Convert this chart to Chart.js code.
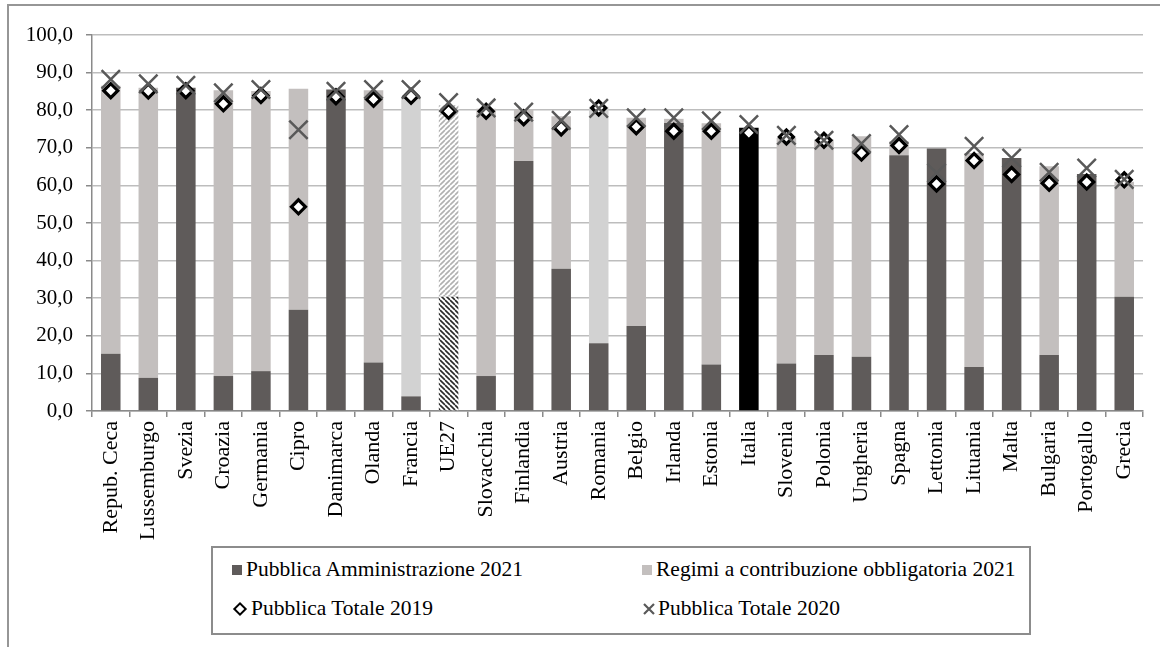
<!DOCTYPE html>
<html>
<head>
<meta charset="utf-8">
<script src="https://cdn.jsdelivr.net/npm/chart.js@4"></script>
<style>
  html, body { margin: 0; padding: 0; background: #fff; }
  #wrap { position: relative; width: 1160px; height: 647px; overflow: hidden; }
  #frame { position: absolute; left: 7px; top: 4px; width: 1200px; height: 700px; border: 2px solid #969696; }
  canvas { position: absolute; left: 0; top: 0; }
  #legend {
    position: absolute; left: 211px; top: 546px; width: 816px; height: 85px;
    border: 2px solid #8c8c8c; background: #fff;
    font-family: "Liberation Serif", "DejaVu Serif", serif; font-size: 21.5px; color: #000;
  }
  .item { position: absolute; display: flex; align-items: center; white-space: nowrap; }
  .sq { display: inline-block; width: 10px; height: 10px; margin-right: 4px; }
  .dia { display: inline-block; width: 6px; height: 6px; border: 2.5px solid #000; background: #fff;
         transform: rotate(45deg); margin: 0 6px 0 3px; }
</style>
</head>
<body>
<div id="wrap">
  <div id="frame"></div>
  <canvas id="chart" width="1160" height="647"></canvas>
  <div id="legend">
    <div class="item" style="left:19px; top:9px;"><span class="sq" style="background:#5f5b5a"></span>Pubblica Amministrazione 2021</div>
    <div class="item" style="left:429px; top:9px;"><span class="sq" style="background:#c3bfbe"></span>Regimi a contribuzione obbligatoria 2021</div>
    <div class="item" style="left:19px; top:48px;"><span class="dia"></span>Pubblica Totale 2019</div>
    <div class="item" style="left:429px; top:48px;">
      <svg width="14" height="12" style="margin-right:2px"><path d="M2 1 L12 11 M12 1 L2 11" stroke="#595959" stroke-width="2.2"/></svg>Pubblica Totale 2020</div>
  </div>
</div>
<script>
// countries, sorted as in the source figure
const categories = ['Repub. Ceca', 'Lussemburgo', 'Svezia', 'Croazia', 'Germania', 'Cipro', 'Danimarca',
    'Olanda', 'Francia', 'UE27', 'Slovacchia', 'Finlandia', 'Austria', 'Romania', 'Belgio', 'Irlanda',
    'Estonia', 'Italia', 'Slovenia', 'Polonia', 'Ungheria', 'Spagna', 'Lettonia', 'Lituania', 'Malta',
    'Bulgaria', 'Portogallo', 'Grecia'];

// stacked bars (2021)
const pubblicaAmm2021 = [15.2, 8.8, 86.0, 9.3, 10.6, 26.9, 85.5, 12.9, 3.9, 30.4, 9.3, 66.5, 37.8, 18.0,
    22.6, 76.6, 12.4, 75.3, 12.6, 14.9, 14.4, 68.0, 69.8, 11.7, 67.3, 14.9, 63.0, 30.4];
const regimi2021 = [71.3, 77.2, 0, 76.0, 74.5, 58.8, 0, 72.4, 79.8, 50.9, 71.1, 13.7, 40.6, 62.9,
    55.4, 1.1, 64.1, 0, 60.0, 57.3, 58.7, 3.7, 0, 56.9, 0, 50.2, 0, 30.6];

// markers
const totale2019 = [85.2, 85.1, 85.2, 81.7, 83.9, 54.3, 83.6, 82.9, 83.7, 79.7, 79.7, 78.0, 75.3, 80.6,
    75.6, 74.4, 74.4, 74.0, 72.9, 72.0, 68.6, 70.6, 60.4, 66.6, 62.9, 60.6, 60.9, 61.5];
const totale2020 = [88.2, 87.0, 86.6, 84.6, 85.5, 74.8, 85.0, 85.5, 85.5, 82.0, 80.6, 79.5, 77.3, 80.5,
    78.0, 78.0, 77.2, 76.2, 73.3, 72.0, 71.1, 73.5, 63.3, 70.4, 67.3, 63.5, 64.6, 61.6];

const yTickLabels = ['0,0', '10,0', '20,0', '30,0', '40,0', '50,0', '60,0', '70,0', '80,0', '90,0', '100,0'];

const DARK = '#5f5b5a';
const LIGHT = '#c3bfbe';
const LIGHTER = '#d2d2d2';
const SERIF = '"Liberation Serif", "DejaVu Serif", serif';

const ctx = document.getElementById('chart').getContext('2d');

// small striped tile for the UE27 bar
function makeHatch(fg, dir) {
    const c = document.createElement('canvas');
    c.width = 5; c.height = 5;
    const g = c.getContext('2d');
    g.fillStyle = '#fff';
    g.fillRect(0, 0, 5, 5);
    g.strokeStyle = fg;
    g.lineWidth = 1.6;
    g.beginPath();
    for (let k = -5; k <= 5; k += 5) {
        if (dir === '\\') { g.moveTo(k, 0); g.lineTo(k + 5, 5); }
        else { g.moveTo(k, 5); g.lineTo(k + 5, 0); }
    }
    g.stroke();
    return ctx.createPattern(c, 'repeat');
}

const darkColors = categories.map(function(name) {
    if (name === 'UE27') return makeHatch('#2a2a2a', '\\');
    if (name === 'Italia') return '#000000';
    return DARK;
});
const lightColors = categories.map(function(name) {
    if (name === 'UE27') return makeHatch('#b0b0b0', '/');
    if (name === 'Francia' || name === 'Romania') return LIGHTER;
    return LIGHT;
});

new Chart(ctx, {
    type: 'bar',
    data: {
        labels: categories,
        datasets: [
            {
                // each marker series gets its own stack so they are not added up
                type: 'line', label: 'Pubblica Totale 2020', data: totale2020, showLine: false, stack: 'x2020',
                pointStyle: 'crossRot', pointRadius: 13, pointBorderWidth: 2.5,
                pointBorderColor: '#595959', borderColor: '#595959'
            },
            {
                type: 'line', label: 'Pubblica Totale 2019', data: totale2019, showLine: false, stack: 'd2019',
                pointStyle: 'rectRot', pointRadius: 7, pointBorderWidth: 3.2,
                pointBorderColor: '#000', pointBackgroundColor: '#fff', borderColor: '#000'
            },
            {
                label: 'Pubblica Amministrazione 2021', data: pubblicaAmm2021, stack: 's',
                backgroundColor: darkColors, borderWidth: 0,
                barPercentage: 0.52, categoryPercentage: 1
            },
            {
                label: 'Regimi a contribuzione obbligatoria 2021', data: regimi2021, stack: 's',
                backgroundColor: lightColors, borderWidth: 0,
                barPercentage: 0.52, categoryPercentage: 1
            }
        ]
    },
    options: {
        responsive: false,
        animation: false,
        layout: { padding: { top: 35, right: 17, left: 0, bottom: 0 } },
        plugins: { legend: { display: false }, tooltip: { enabled: false } },
        scales: {
            x: {
                stacked: true,
                afterFit: function(scale) { scale.height = 236; },
                grid: { drawOnChartArea: false, drawTicks: true, tickLength: 6, color: '#8a8a8a', lineWidth: 1.5 },
                border: { color: '#8a8a8a', width: 1.5 },
                ticks: {
                    autoSkip: false, maxRotation: 90, minRotation: 90, padding: 4,
                    color: '#000', font: { family: SERIF, size: 22 }
                }
            },
            y: {
                stacked: true,
                min: 0, max: 100,
                afterFit: function(scale) { scale.width = 92; },
                grid: { color: '#bdbdbd', lineWidth: 1.5, tickLength: 6, tickColor: '#8a8a8a' },
                border: { color: '#8a8a8a', width: 1.5 },
                ticks: {
                    stepSize: 10, padding: 13, color: '#000', font: { family: SERIF, size: 21 },
                    callback: function(value, index) { return yTickLabels[index]; }
                }
            }
        }
    }
});
</script>
</body>
</html>
